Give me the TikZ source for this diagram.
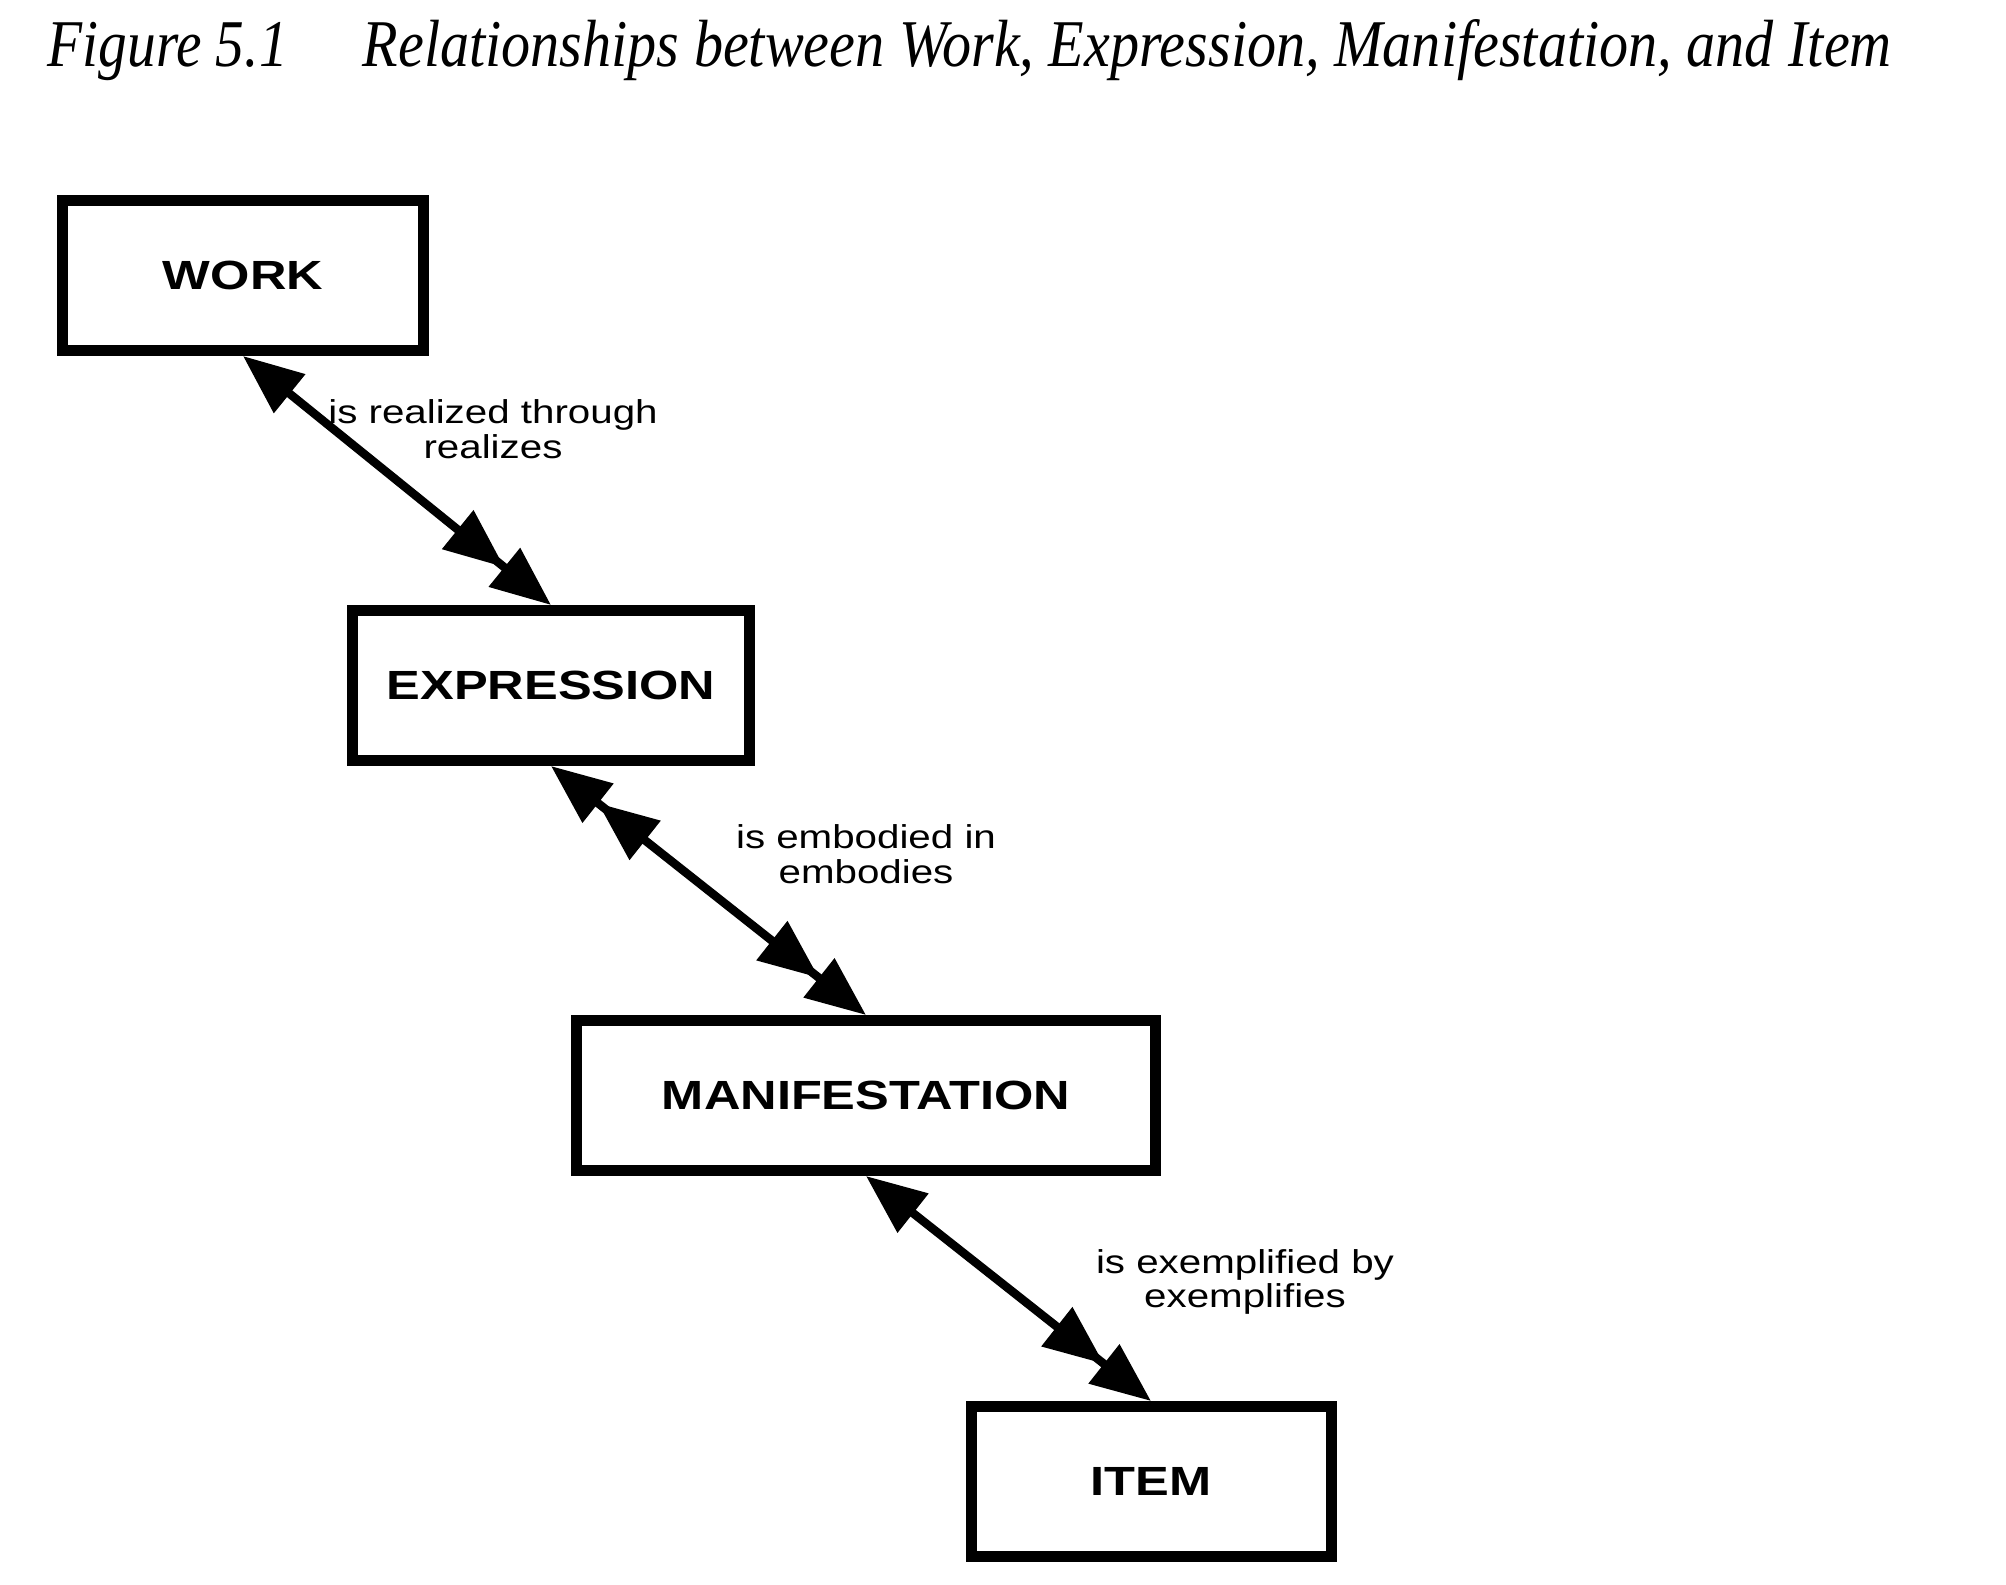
\documentclass[tikz,border=0pt]{standalone}
\usepackage{fontspec}
\usepackage{graphicx}
\usetikzlibrary{arrows.meta}
\usetikzlibrary{positioning}
\newfontfamily\arialfont{Liberation Sans}
\newfontfamily\timesfont{Liberation Serif}
\newcommand{\wide}[2][1.22]{\scalebox{#1}[1]{#2}}

\tikzset{
  entity/.style={draw, line width=1.1mm, minimum height=1.5cm, inner sep=0pt,
    font=\arialfont\bfseries\fontsize{11.6}{13}\selectfont},
  relname/.style={align=center, inner sep=0pt,
    font=\arialfont\fontsize{9.4}{9.8}\selectfont},
  title/.style={inner sep=0pt, anchor=base west,
    font=\timesfont\itshape\fontsize{19}{21}\selectfont},
  rel/.style={line width=0.85mm},
  onemany/.style={rel, {Triangle[length=6mm,width=4.8mm]}-{Triangle[length=6mm,width=4.8mm,sep=0pt]Triangle[length=6mm,width=4.8mm]}},
  manymany/.style={rel, {Triangle[length=6mm,width=4.8mm,sep=0pt]Triangle[length=6mm,width=4.8mm]}-{Triangle[length=6mm,width=4.8mm,sep=0pt]Triangle[length=6mm,width=4.8mm]}}
}

\begin{document}
\begin{tikzpicture}
        \useasboundingbox (0,0) rectangle (20.06,-15.84);

        \node[title] (fignum)  at (0.47,-0.66) {\resizebox{2.40cm}{\height}{Figure 5.1}};
        \node[title] (caption) at (3.62,-0.66) {\resizebox{15.29cm}{\height}{Relationships between Work, Expression, Manifestation, and Item}};

        \node[entity, minimum width=3.61cm] (work) at (2.43,-2.755) {\wide[1.24]{WORK}};
        \node[entity, minimum width=3.97cm, on grid, below right=4.10cm and 3.08cm of work]  (expr)  {\wide[1.24]{EXPRESSION}};
        \node[entity, minimum width=5.79cm, on grid, below right=4.10cm and 3.15cm of expr]  (manif) {\wide[1.24]{MANIFESTATION}};
        \node[entity, minimum width=3.60cm, on grid, below right=3.86cm and 2.85cm of manif] (item) {\wide[1.24]{ITEM}};

        \draw[onemany]  (work.south)  -- (expr.north);
        \draw[manymany] (expr.south)  -- (manif.north);
        \draw[onemany]  (manif.south) -- (item.north);

        \node[relname] (realize)   at (4.93,-4.29)  {\wide{is realized through}\\\wide{realizes}};
        \node[relname] (embody)    at (8.66,-8.54)  {\wide{is embodied in}\\\wide{embodies}};
        \node[relname] (exemplify) at (12.45,-12.82) {\wide{is exemplified by}\\\wide{exemplifies}};
      \end{tikzpicture}
\end{document}
